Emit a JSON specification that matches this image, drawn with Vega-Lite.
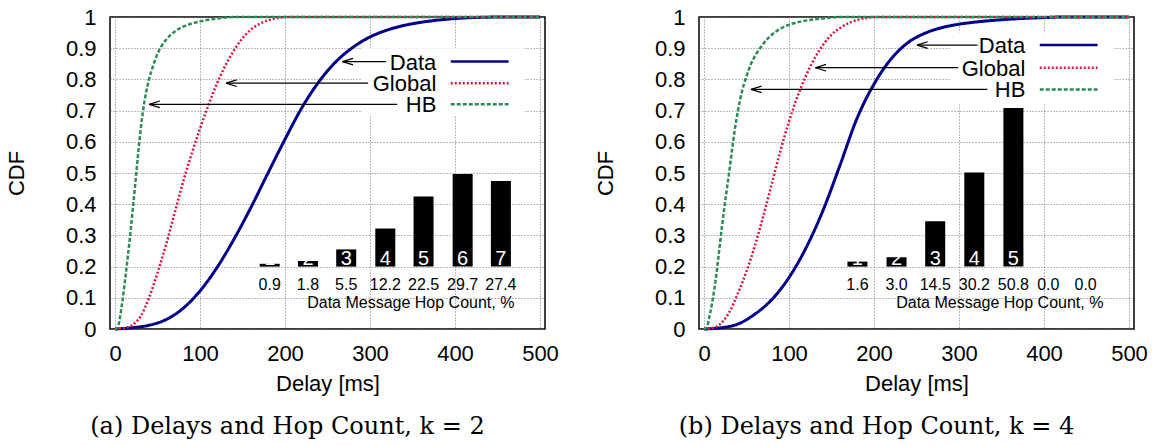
{
"$schema": "https://vega.github.io/schema/vega-lite/v6.json",
"background": "white",
"padding": {"left": 4, "top": 5, "right": 5, "bottom": 0},
"bounds": "flush",
"spacing": 154,
"config": {
  "font": "Liberation Sans",
  "view": {"stroke": "#000", "strokeWidth": 1.5},
  "axis": {"labelFont": "Liberation Sans", "labelFontSize": 22, "labelColor": "#000", "titleFont": "Liberation Sans", "titleFontSize": 22, "titleFontWeight": "normal", "titleColor": "#000", "ticks": false, "domain": false, "grid": true, "gridColor": "#777", "gridDash": [1, 2], "gridWidth": 1},
  "title": {"font": "DejaVu Serif", "fontSize": 24, "fontWeight": "normal", "color": "#000"}
},
"datasets": {
  "cur_a": [
    {"s": "Data", "x": 0, "y": 0}, {"s": "Data", "x": 20, "y": 0.004}, {"s": "Data", "x": 40, "y": 0.012}, {"s": "Data", "x": 60, "y": 0.03}, {"s": "Data", "x": 80, "y": 0.066}, {"s": "Data", "x": 100, "y": 0.122}, {"s": "Data", "x": 120, "y": 0.197}, {"s": "Data", "x": 140, "y": 0.288}, {"s": "Data", "x": 160, "y": 0.39}, {"s": "Data", "x": 180, "y": 0.5}, {"s": "Data", "x": 200, "y": 0.608}, {"s": "Data", "x": 220, "y": 0.71}, {"s": "Data", "x": 240, "y": 0.793}, {"s": "Data", "x": 260, "y": 0.857}, {"s": "Data", "x": 280, "y": 0.903}, {"s": "Data", "x": 300, "y": 0.936}, {"s": "Data", "x": 320, "y": 0.958}, {"s": "Data", "x": 340, "y": 0.973}, {"s": "Data", "x": 360, "y": 0.983}, {"s": "Data", "x": 380, "y": 0.99}, {"s": "Data", "x": 400, "y": 0.995}, {"s": "Data", "x": 420, "y": 0.998}, {"s": "Data", "x": 440, "y": 0.9995}, {"s": "Data", "x": 460, "y": 1}, {"s": "Data", "x": 500, "y": 1},
    {"s": "Global", "x": 0, "y": 0}, {"s": "Global", "x": 10, "y": 0.002}, {"s": "Global", "x": 20, "y": 0.012}, {"s": "Global", "x": 30, "y": 0.04}, {"s": "Global", "x": 40, "y": 0.1}, {"s": "Global", "x": 50, "y": 0.18}, {"s": "Global", "x": 60, "y": 0.27}, {"s": "Global", "x": 70, "y": 0.37}, {"s": "Global", "x": 80, "y": 0.47}, {"s": "Global", "x": 90, "y": 0.56}, {"s": "Global", "x": 100, "y": 0.642}, {"s": "Global", "x": 110, "y": 0.718}, {"s": "Global", "x": 120, "y": 0.787}, {"s": "Global", "x": 130, "y": 0.845}, {"s": "Global", "x": 140, "y": 0.893}, {"s": "Global", "x": 150, "y": 0.932}, {"s": "Global", "x": 160, "y": 0.96}, {"s": "Global", "x": 170, "y": 0.978}, {"s": "Global", "x": 180, "y": 0.989}, {"s": "Global", "x": 190, "y": 0.996}, {"s": "Global", "x": 200, "y": 1}, {"s": "Global", "x": 500, "y": 1},
    {"s": "HB", "x": 0, "y": 0}, {"s": "HB", "x": 3, "y": 0.003}, {"s": "HB", "x": 6, "y": 0.04}, {"s": "HB", "x": 9, "y": 0.095}, {"s": "HB", "x": 12, "y": 0.16}, {"s": "HB", "x": 15, "y": 0.23}, {"s": "HB", "x": 18, "y": 0.305}, {"s": "HB", "x": 21, "y": 0.385}, {"s": "HB", "x": 24, "y": 0.47}, {"s": "HB", "x": 27, "y": 0.555}, {"s": "HB", "x": 30, "y": 0.635}, {"s": "HB", "x": 33, "y": 0.7}, {"s": "HB", "x": 36, "y": 0.75}, {"s": "HB", "x": 40, "y": 0.8}, {"s": "HB", "x": 45, "y": 0.845}, {"s": "HB", "x": 50, "y": 0.882}, {"s": "HB", "x": 55, "y": 0.908}, {"s": "HB", "x": 60, "y": 0.927}, {"s": "HB", "x": 70, "y": 0.953}, {"s": "HB", "x": 80, "y": 0.969}, {"s": "HB", "x": 90, "y": 0.979}, {"s": "HB", "x": 100, "y": 0.986}, {"s": "HB", "x": 110, "y": 0.991}, {"s": "HB", "x": 120, "y": 0.995}, {"s": "HB", "x": 130, "y": 0.998}, {"s": "HB", "x": 145, "y": 1}, {"s": "HB", "x": 500, "y": 1}
  ],
  "cur_b": [
    {"s": "Data", "x": 0, "y": 0}, {"s": "Data", "x": 20, "y": 0.004}, {"s": "Data", "x": 40, "y": 0.016}, {"s": "Data", "x": 60, "y": 0.048}, {"s": "Data", "x": 80, "y": 0.095}, {"s": "Data", "x": 100, "y": 0.165}, {"s": "Data", "x": 120, "y": 0.26}, {"s": "Data", "x": 140, "y": 0.38}, {"s": "Data", "x": 160, "y": 0.525}, {"s": "Data", "x": 180, "y": 0.675}, {"s": "Data", "x": 200, "y": 0.785}, {"s": "Data", "x": 220, "y": 0.865}, {"s": "Data", "x": 240, "y": 0.918}, {"s": "Data", "x": 260, "y": 0.948}, {"s": "Data", "x": 280, "y": 0.966}, {"s": "Data", "x": 300, "y": 0.977}, {"s": "Data", "x": 320, "y": 0.984}, {"s": "Data", "x": 340, "y": 0.989}, {"s": "Data", "x": 360, "y": 0.993}, {"s": "Data", "x": 380, "y": 0.996}, {"s": "Data", "x": 400, "y": 0.998}, {"s": "Data", "x": 420, "y": 1}, {"s": "Data", "x": 500, "y": 1},
    {"s": "Global", "x": 0, "y": 0}, {"s": "Global", "x": 10, "y": 0.003}, {"s": "Global", "x": 20, "y": 0.018}, {"s": "Global", "x": 30, "y": 0.055}, {"s": "Global", "x": 40, "y": 0.115}, {"s": "Global", "x": 50, "y": 0.185}, {"s": "Global", "x": 60, "y": 0.268}, {"s": "Global", "x": 70, "y": 0.364}, {"s": "Global", "x": 80, "y": 0.468}, {"s": "Global", "x": 90, "y": 0.572}, {"s": "Global", "x": 100, "y": 0.665}, {"s": "Global", "x": 110, "y": 0.745}, {"s": "Global", "x": 120, "y": 0.812}, {"s": "Global", "x": 130, "y": 0.867}, {"s": "Global", "x": 140, "y": 0.91}, {"s": "Global", "x": 150, "y": 0.943}, {"s": "Global", "x": 160, "y": 0.965}, {"s": "Global", "x": 170, "y": 0.98}, {"s": "Global", "x": 180, "y": 0.99}, {"s": "Global", "x": 190, "y": 0.996}, {"s": "Global", "x": 200, "y": 1}, {"s": "Global", "x": 500, "y": 1},
    {"s": "HB", "x": 0, "y": 0}, {"s": "HB", "x": 3, "y": 0.003}, {"s": "HB", "x": 6, "y": 0.035}, {"s": "HB", "x": 9, "y": 0.075}, {"s": "HB", "x": 12, "y": 0.125}, {"s": "HB", "x": 15, "y": 0.185}, {"s": "HB", "x": 18, "y": 0.255}, {"s": "HB", "x": 21, "y": 0.325}, {"s": "HB", "x": 24, "y": 0.39}, {"s": "HB", "x": 27, "y": 0.45}, {"s": "HB", "x": 30, "y": 0.51}, {"s": "HB", "x": 33, "y": 0.575}, {"s": "HB", "x": 36, "y": 0.635}, {"s": "HB", "x": 40, "y": 0.7}, {"s": "HB", "x": 45, "y": 0.765}, {"s": "HB", "x": 50, "y": 0.81}, {"s": "HB", "x": 55, "y": 0.848}, {"s": "HB", "x": 60, "y": 0.875}, {"s": "HB", "x": 66, "y": 0.9}, {"s": "HB", "x": 74, "y": 0.928}, {"s": "HB", "x": 83, "y": 0.95}, {"s": "HB", "x": 94, "y": 0.968}, {"s": "HB", "x": 104, "y": 0.979}, {"s": "HB", "x": 115, "y": 0.986}, {"s": "HB", "x": 126, "y": 0.991}, {"s": "HB", "x": 143, "y": 0.996}, {"s": "HB", "x": 160, "y": 1}, {"s": "HB", "x": 500, "y": 1}
  ],
  "hops_a": [
    {"hop": 1, "x": 182, "y": 0.209, "pct": 0.9}, {"hop": 2, "x": 227, "y": 0.218, "pct": 1.8}, {"hop": 3, "x": 272, "y": 0.255, "pct": 5.5}, {"hop": 4, "x": 318, "y": 0.322, "pct": 12.2}, {"hop": 5, "x": 363, "y": 0.425, "pct": 22.5}, {"hop": 6, "x": 409, "y": 0.497, "pct": 29.7}, {"hop": 7, "x": 454, "y": 0.474, "pct": 27.4}
  ],
  "hops_b": [
    {"hop": 1, "x": 180.5, "y": 0.216, "pct": 1.6}, {"hop": 2, "x": 226.5, "y": 0.23, "pct": 3.0}, {"hop": 3, "x": 272, "y": 0.345, "pct": 14.5}, {"hop": 4, "x": 318, "y": 0.502, "pct": 30.2}, {"hop": 5, "x": 364, "y": 0.708, "pct": 50.8}, {"hop": 6, "x": 405, "y": 0.2, "pct": 0.0}, {"hop": 7, "x": 449, "y": 0.2, "pct": 0.0}
  ],
  "leg_a": [
    {"s": "Data", "y": 0.857, "x": 267.5, "x2": 319}, {"s": "Global", "y": 0.788, "x": 130.7, "x2": 297.7}, {"s": "HB", "y": 0.72, "x": 40.2, "x2": 332}
  ],
  "leg_b": [
    {"s": "Data", "y": 0.91, "x": 250.6, "x2": 321.7}, {"s": "Global", "y": 0.8375, "x": 131, "x2": 299}, {"s": "HB", "y": 0.768, "x": 55.2, "x2": 333.3}
  ],
  "box_a": [{"x": 290, "x2": 482, "y": 0.685, "y2": 0.9}],
  "box_b": [{"x": 290, "x2": 482, "y": 0.72, "y2": 0.95}],
  "note": [{"label": "Data Message Hop Count, %", "x": 348, "y": 0.066}]
},
"hconcat": [
  {
    "width": 435, "height": 312,
    "title": {"text": "(a) Delays and Hop Count, k = 2", "orient": "bottom", "anchor": "middle", "dx": -40, "offset": 21},
    "encoding": {
      "x": {"field": "x", "type": "quantitative", "scale": {"domain": [0, 500], "nice": false}, "axis": {"values": [0, 100, 200, 300, 400, 500], "format": "d", "title": "Delay [ms]", "labelPadding": 14, "titleY": 61, "titleBaseline": "alphabetic"}},
      "y": {"field": "y", "type": "quantitative", "scale": {"domain": [0, 1], "nice": false}, "axis": {"values": [0, 0.1, 0.2, 0.3, 0.4, 0.5, 0.6, 0.7, 0.8, 0.9, 1], "format": ".1~f", "title": "CDF", "labelPadding": 14, "titleX": -93.5, "titleY": 156, "titleBaseline": "middle"}}
    },
    "layer": [
      {"data": {"name": "box_a"}, "mark": {"type": "rect", "fill": "white"}, "encoding": {"x2": {"field": "x2"}, "y2": {"field": "y2"}}},
      {"data": {"name": "hops_a"}, "mark": {"type": "bar", "width": 20, "color": "#000"}, "encoding": {"y2": {"datum": 0.2}}},
      {"data": {"name": "hops_a"}, "transform": [{"filter": "datum.pct > 0"}], "mark": {"type": "text", "color": "white", "fontSize": 20, "baseline": "alphabetic", "align": "center"}, "encoding": {"y": {"datum": 0.204}, "text": {"field": "hop"}}},
      {"data": {"name": "hops_a"}, "mark": {"type": "text", "color": "#000", "fontSize": 16, "baseline": "alphabetic", "align": "center"}, "encoding": {"y": {"datum": 0.1234}, "text": {"field": "pct", "format": ".1f"}}},
      {"data": {"name": "note"}, "mark": {"type": "text", "color": "#000", "fontSize": 16, "baseline": "alphabetic", "align": "center"}, "encoding": {"text": {"field": "label"}}},
      {"data": {"name": "cur_a"}, "transform": [{"filter": "datum.s == 'Data'"}], "mark": {"type": "line", "strokeWidth": 3, "interpolate": "monotone"}, "encoding": {"color": {"field": "s", "type": "nominal", "scale": {"domain": ["Data", "Global", "HB"], "range": ["#00008b", "#dc143c", "#2e8b57"]}, "legend": null}, "strokeDash": {"field": "s", "type": "nominal", "scale": {"domain": ["Data", "Global", "HB"], "range": [[1, 0], [2, 2], [4, 2]]}, "legend": null}}},
      {"data": {"name": "cur_a"}, "transform": [{"filter": "datum.s != 'Data'"}], "mark": {"type": "line", "strokeWidth": 2.5, "interpolate": "monotone"}, "encoding": {"color": {"field": "s", "type": "nominal", "legend": null}, "strokeDash": {"field": "s", "type": "nominal", "legend": null}}},
      {"data": {"name": "leg_a"}, "mark": {"type": "rule", "color": "#000", "strokeWidth": 1.2}, "encoding": {"x2": {"field": "x2"}}},
      {"data": {"name": "leg_a"}, "mark": {"type": "point", "shape": "M0,0L2,-0.62M0,0L2,0.62", "size": 114, "filled": false, "stroke": "#000", "strokeWidth": 1.2, "opacity": 1}, "encoding": {}},
      {"data": {"name": "leg_a"}, "mark": {"type": "text", "color": "#000", "fontSize": 22, "align": "right", "baseline": "alphabetic", "dy": 8}, "encoding": {"x": {"datum": 378}, "text": {"field": "s"}}},
      {"data": {"name": "leg_a"}, "mark": {"type": "rule", "strokeWidth": 2.5}, "encoding": {"x": {"datum": 395}, "x2": {"datum": 463}, "color": {"field": "s", "type": "nominal", "legend": null}, "strokeDash": {"field": "s", "type": "nominal", "legend": null}}}
    ]
  },
  {
    "width": 435, "height": 312,
    "title": {"text": "(b) Delays and Hop Count, k = 4", "orient": "bottom", "anchor": "middle", "dx": -40, "offset": 21},
    "encoding": {
      "x": {"field": "x", "type": "quantitative", "scale": {"domain": [0, 500], "nice": false}, "axis": {"values": [0, 100, 200, 300, 400, 500], "format": "d", "title": "Delay [ms]", "labelPadding": 14, "titleY": 61, "titleBaseline": "alphabetic"}},
      "y": {"field": "y", "type": "quantitative", "scale": {"domain": [0, 1], "nice": false}, "axis": {"values": [0, 0.1, 0.2, 0.3, 0.4, 0.5, 0.6, 0.7, 0.8, 0.9, 1], "format": ".1~f", "title": "CDF", "labelPadding": 14, "titleX": -93.5, "titleY": 156, "titleBaseline": "middle"}}
    },
    "layer": [
      {"data": {"name": "box_b"}, "mark": {"type": "rect", "fill": "white"}, "encoding": {"x2": {"field": "x2"}, "y2": {"field": "y2"}}},
      {"data": {"name": "hops_b"}, "mark": {"type": "bar", "width": 20, "color": "#000"}, "encoding": {"y2": {"datum": 0.2}}},
      {"data": {"name": "hops_b"}, "transform": [{"filter": "datum.pct > 0"}], "mark": {"type": "text", "color": "white", "fontSize": 20, "baseline": "alphabetic", "align": "center"}, "encoding": {"y": {"datum": 0.204}, "text": {"field": "hop"}}},
      {"data": {"name": "hops_b"}, "mark": {"type": "text", "color": "#000", "fontSize": 16, "baseline": "alphabetic", "align": "center"}, "encoding": {"y": {"datum": 0.1234}, "text": {"field": "pct", "format": ".1f"}}},
      {"data": {"name": "note"}, "mark": {"type": "text", "color": "#000", "fontSize": 16, "baseline": "alphabetic", "align": "center"}, "encoding": {"text": {"field": "label"}}},
      {"data": {"name": "cur_b"}, "transform": [{"filter": "datum.s == 'Data'"}], "mark": {"type": "line", "strokeWidth": 3, "interpolate": "monotone"}, "encoding": {"color": {"field": "s", "type": "nominal", "scale": {"domain": ["Data", "Global", "HB"], "range": ["#00008b", "#dc143c", "#2e8b57"]}, "legend": null}, "strokeDash": {"field": "s", "type": "nominal", "scale": {"domain": ["Data", "Global", "HB"], "range": [[1, 0], [2, 2], [4, 2]]}, "legend": null}}},
      {"data": {"name": "cur_b"}, "transform": [{"filter": "datum.s != 'Data'"}], "mark": {"type": "line", "strokeWidth": 2.5, "interpolate": "monotone"}, "encoding": {"color": {"field": "s", "type": "nominal", "legend": null}, "strokeDash": {"field": "s", "type": "nominal", "legend": null}}},
      {"data": {"name": "leg_b"}, "mark": {"type": "rule", "color": "#000", "strokeWidth": 1.2}, "encoding": {"x2": {"field": "x2"}}},
      {"data": {"name": "leg_b"}, "mark": {"type": "point", "shape": "M0,0L2,-0.62M0,0L2,0.62", "size": 114, "filled": false, "stroke": "#000", "strokeWidth": 1.2, "opacity": 1}, "encoding": {}},
      {"data": {"name": "leg_b"}, "mark": {"type": "text", "color": "#000", "fontSize": 22, "align": "right", "baseline": "alphabetic", "dy": 8}, "encoding": {"x": {"datum": 378}, "text": {"field": "s"}}},
      {"data": {"name": "leg_b"}, "mark": {"type": "rule", "strokeWidth": 2.5}, "encoding": {"x": {"datum": 395}, "x2": {"datum": 463}, "color": {"field": "s", "type": "nominal", "legend": null}, "strokeDash": {"field": "s", "type": "nominal", "legend": null}}}
    ]
  }
]
}
